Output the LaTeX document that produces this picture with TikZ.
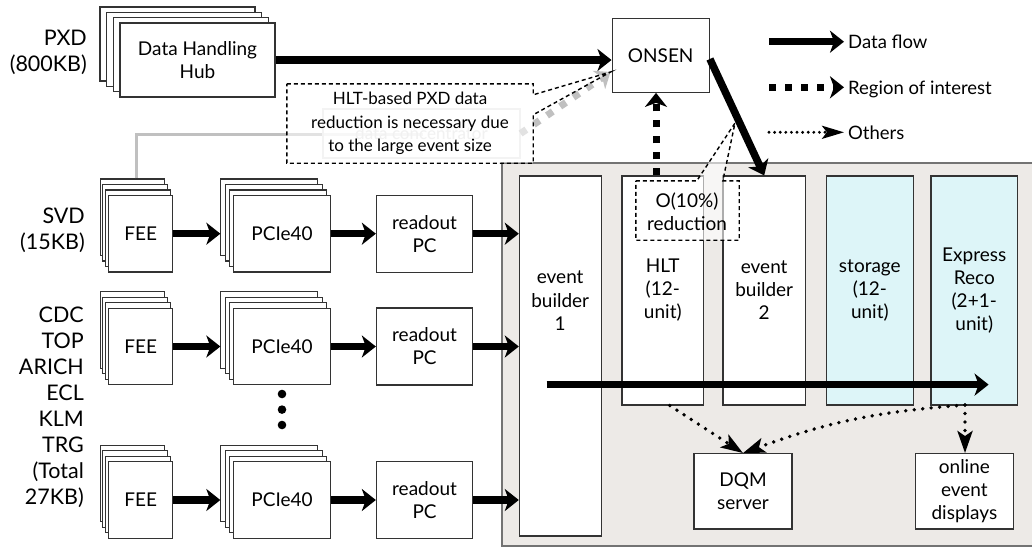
\documentclass[tikz,border=0pt]{standalone}
\usepackage{fontspec}
\setmainfont{Lato}
\usetikzlibrary{arrows.meta,calc}
\definecolor{bggray}{RGB}{237,234,231}
\definecolor{lcyan}{RGB}{221,245,248}
\definecolor{lgray}{RGB}{192,192,192}
\newcommand{\mkstack}[8]{%
  \foreach \k in {3,2,1}{%
    \node[box, minimum width=#4pt, minimum height=#5pt] (#1-\k) at ({#2-\k*#6},{#3-\k*#7}) {};
  }%
  \node[box, minimum width=#4pt, minimum height=#5pt] (#1) at (#2,#3) {#8};%
}
\begin{document}
\begin{tikzpicture}[x=1pt,y=-1pt,
  box/.style={draw=black!80, line width=1.1pt, fill=white, inner sep=0pt, align=center, font=\fontsize{19}{23}\selectfont},
  txt/.style={inner sep=0pt, align=center, font=\fontsize{19}{23.5}\selectfont},
  side/.style={inner sep=0pt, align=right, anchor=east, font=\fontsize{21.5}{26}\selectfont},
  flow/.style={line width=7.5pt, -{Stealth[length=14pt,width=22pt,inset=4pt]}},
  roi/.style={line width=7pt, dash pattern=on 7pt off 9pt, -{Stealth[length=14pt,width=22pt,inset=4pt]}},
  oth/.style={line width=3.8pt, line cap=round, dash pattern=on 0pt off 8.5pt, -{Stealth[length=22pt,width=15pt,inset=5pt]}},
  othlg/.style={line width=3.2pt, line cap=round, dash pattern=on 0pt off 5.6pt, -{Stealth[length=22pt,width=13pt,inset=5pt]}},
  callout/.style={draw=black, line width=1.4pt, dash pattern=on 4pt off 3pt, fill=white, fill opacity=0.55},
  lgtxt/.style={inner sep=0pt, anchor=base west, font=\fontsize{18.5}{24}\selectfont},
]
\useasboundingbox (0,0) rectangle (1032,547);

% side labels
\node[side] (pxd) at (87,52.5) {PXD\\(800KB)};
\node[side] (svd) at (85,230) {SVD\\(15KB)};
\node[side] (rest) at (84,407) {CDC\\TOP\\ARICH\\ECL\\KLM\\TRG\\(Total\hspace*{6.5pt}\\27KB)};

% PXD chain
\mkstack{dhh}{197.5}{60}{155}{74}{6.67}{5.33}{Data Handling\\Hub}
\node[box, minimum width=97.3pt, minimum height=74pt] (onsen) at (660.7,55.3) {ONSEN};

% background region
\fill[bggray, draw=black!55, line width=1.2pt] (502,163) rectangle (1040,546);

% rows
\foreach \r/\yy in {1/233.7, 2/346.5, 3/500}{
  \mkstack{fee\r}{140.7}{\yy}{64.4}{76.5}{2.8}{5.5}{FEE}
  \mkstack{pci\r}{282}{\yy}{97}{76.5}{4.2}{5.5}{PCIe40}
  \node[box, minimum width=96.4pt, minimum height=77pt] (ro\r) at (424.6,\yy) {readout\\PC};
}

% data concentrator (faded)
\draw[lgray, line width=3pt] ([xshift=3.7pt]fee1-3.north) |- (423,134);
\node[box, draw=black!10, fill=white, fill opacity=0.75, text=black!12, text opacity=1, font=\fontsize{17}{20}\selectfont, minimum width=197pt, minimum height=49pt] (dc) at (421.5,133.5) {data concentrator};
\coordinate (ptip1) at (610.5,72);
\draw[roi, lgray] (dc.east) -- (ptip1);

% main boxes
\node[box, minimum width=81.7pt, minimum height=360pt] (eb1) at (560.2,356) {};
\node[txt] (eb1t) at (560.2,300.8) {event\\builder\\1};
\node[box, minimum width=81.6pt, minimum height=229pt] (hlt) at (662.8,290.5) {HLT\\(12-\\unit)};
\node[box, minimum width=82.4pt, minimum height=229pt] (eb2) at (764.2,290.5) {event\\builder\\2};
\node[box, fill=lcyan, minimum width=86.9pt, minimum height=229pt] (sto) at (869.85,290.5) {storage\\(12-\\unit)};
\node[box, fill=lcyan, minimum width=86.5pt, minimum height=229pt] (expr) at (974.25,290.5) {Express\\Reco\\(2+1-\\unit)};
\node[box, minimum width=98pt, minimum height=75.4pt] (dqm) at (743,491.3) {DQM\\server};
\node[box, minimum width=97.3pt, minimum height=75.4pt] (oed) at (964.4,491.3) {online\\event\\displays};

% dots
\foreach \yy in {394,409.6,425} \fill (282,\yy) circle (4.3pt);

% data flow arrows
\draw[flow] (dhh.east) -- (dhh.east -| onsen.west);
\foreach \r in {1,2,3}{
  \draw[flow] (fee\r.east) -- (fee\r.east -| pci\r-3.west);
  \draw[flow] (pci\r.east) -- (pci\r.east -| ro\r.west);
  \draw[flow] (ro\r.east) -- (ro\r.east -| eb1.west);
}
\coordinate (ls) at (546.5,384.6);
\coordinate (le) at (988.6,384.6);
\draw[flow] (ls) -- (le);
\draw[flow] ($(onsen.east)+(0,3.7)$) -- (eb2.north);

% region of interest
\coordinate (roib) at ([xshift=-6.8pt]hlt.north);
\draw[roi] (roib) -- (roib |- onsen.south);

% others
\draw[oth] ([xshift=7pt]hlt.south) -- (dqm.north);
\coordinate (exb) at (965,405);
\draw[oth] (exb) to[bend right=8] (dqm.north);
\draw[oth] (exb) -- (exb |- oed.north);

% callout 1
\node[inner sep=0pt, minimum width=246pt, minimum height=79pt] (cal1) at (410,123.5) {};
\draw[callout] (cal1.north west) -- (cal1.north east) -- ($(cal1.north east)+(0,11)$) -- (ptip1) -- ($(cal1.north east)+(0,31)$) -- (cal1.south east) -- (cal1.south west) -- cycle;
\node[txt, font=\fontsize{17}{23.5}\selectfont] (cal1t) at (cal1.center) {HLT-based PXD data\\reduction is necessary due\\to the large event size};

% callout 2
\node[inner sep=0pt, minimum width=103pt, minimum height=59pt] (cal2) at (687.5,210.5) {};
\coordinate (ptip2) at (735,123);
\draw[callout, fill opacity=0.6] (cal2.north west) -- ($(cal2.north west)+(61,0)$) -- (ptip2) -- ($(cal2.north west)+(87,0)$) -- (cal2.north east) -- (cal2.south east) -- (cal2.south west) -- cycle;
\node[txt] (cal2t) at (687,211.7) {O(10\%)\\reduction};

% legend
\node[lgtxt] (lg1) at (848,48.5) {Data flow};
\node[lgtxt] (lg2) at (848,94) {Region of interest};
\node[lgtxt] (lg3) at (848,139) {Others};
\coordinate (lg1s) at (769,41.7);
\coordinate (lg2s) at (769,87.3);
\coordinate (lg3s) at (769,132.3);
\draw[flow] (lg1s) -- ($(lg1s -| lg1.west)+(-4,0)$);
\draw[roi] (lg2s) -- ($(lg2s -| lg2.west)+(-4,0)$);
\draw[othlg] (lg3s) -- ($(lg3s -| lg3.west)+(-4,0)$);
\end{tikzpicture}
\end{document}
